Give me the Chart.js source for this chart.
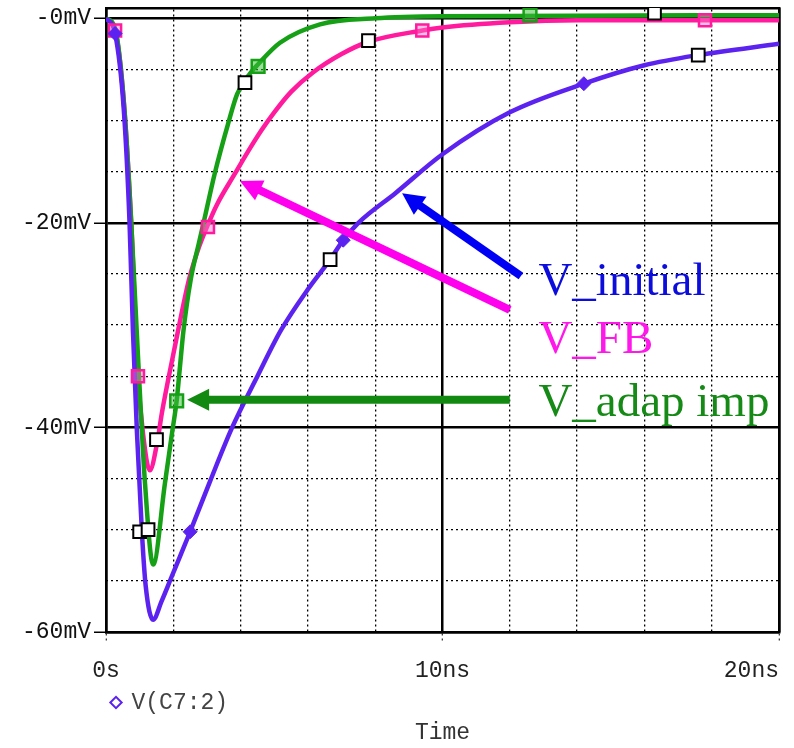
<!DOCTYPE html>
<html lang="en">
<head>
<meta charset="UTF-8">
<title>V(C7:2)</title>
<script src="https://cdn.jsdelivr.net/npm/chart.js"></script>
<style>
  html, body { margin: 0; padding: 0; background: #fff; overflow: hidden; }
  #wrap { position: relative; width: 860px; height: 748px; }
</style>
</head>
<body>
<div id="wrap"><canvas id="chart"></canvas></div>
<script>
// time in ns, voltage in mV
const tInitial = [0, 0.27, 0.53, 0.7, 0.8, 0.92, 1.07, 1.18, 1.4, 1.65, 1.95, 2.2, 2.5, 3.1, 3.75, 4.5, 5.2, 6.0, 6.66, 7.05, 7.5, 8.6, 10, 12, 14.2, 16, 17.6, 20];
const vInitial = [0, -1.5, -9, -20, -30.5, -40.5, -50.4, -55.5, -58.8, -57.0, -54.6, -52.6, -50.2, -45.2, -40, -35, -30.5, -26.5, -23.6, -21.7, -20, -17.1, -13.3, -9.2, -6.4, -4.6, -3.6, -2.5];

const tFB = [0, 0.27, 0.5, 0.75, 0.95, 1.1, 1.3, 1.52, 1.66, 1.85, 2.15, 2.47, 2.76, 3.0, 3.3, 3.83, 4.3, 4.63, 5.0, 5.5, 6.15, 7.0, 7.8, 9.4, 10, 12, 14, 20];
const vFB = [0, -1.2, -7, -20, -35, -40.6, -44.2, -41.5, -38.6, -35.3, -30.4, -25.5, -22.4, -20.4, -18.2, -15.2, -12.6, -10.9, -9.2, -7.2, -5.3, -3.5, -2.3, -1.2, -0.9, -0.4, -0.2, -0.2];

const tAdap = [0, 0.27, 0.55, 0.75, 0.95, 1.16, 1.4, 1.75, 1.96, 2.1, 2.2, 2.3, 2.52, 2.76, 2.9, 3.23, 3.63, 3.9, 4.28, 4.52, 5.17, 6.36, 8, 10, 20];
const vAdap = [0, -1, -9, -20, -33, -45.5, -53.4, -45.5, -40.6, -37.4, -34.0, -30.6, -25.5, -22, -20, -15.2, -10.3, -7.4, -5.4, -4.5, -2.4, -0.6, 0, 0.2, 0.3];

// trace symbols
const mInitialT = [0.27, 2.5, 7.05, 14.2];
const mInitialV = [-1.5, -50.2, -21.7, -6.4];
const mFBT = [0.27, 0.95, 3.03, 9.4, 17.8];
const mFBV = [-1.2, -35, -20.4, -1.2, -0.2];
const mAdapT = [2.1, 4.52, 12.6];
const mAdapV = [-37.4, -4.7, 0.3];
const mBoxT = [1.0, 1.25, 1.5, 4.13, 6.66, 7.8, 16.3, 17.6];
const mBoxV = [-50.2, -50.0, -41.2, -6.3, -23.6, -2.2, 0.5, -3.6];

const xTicks = [0, 10, 20];
const xTickLabels = ['0s', '10ns', '20ns'];
const yTicks = [-60, -40, -20, 0];
const yTickLabels = ['-60mV', '-40mV', '-20mV', '-0mV'];

// callouts
const noteText = ['V_initial', 'V_FB', 'V_adap imp'];
const noteColor = ['#0c0cdc', '#ff18ea', '#168a16'];
const noteAt = [[12.85, -27.1], [12.85, -32.7], [12.85, -38.9]];
const arrowFrom = [[12.33, -25.2], [12.0, -28.5], [12.0, -37.3]];
const arrowTo = [[8.8, -17.1], [3.98, -15.9], [2.41, -37.3]];
const arrowColor = ['#0000f5', '#ff00ee', '#128a12'];

const PURPLE = '#5b22f0';
const PINK = '#ff1a9e';
const GREEN = '#16a016';

function pts(t, v) {
  return t.map((x, i) => ({x: x, y: v[i]}));
}

const mono = "'Liberation Mono', monospace";

const callouts = {
  id: 'callouts',
  afterDraw(chart) {
    const ctx = chart.ctx;
    const sx = chart.scales.x, sy = chart.scales.y;
    ctx.save();
    for (let i = 0; i < arrowFrom.length; i++) {
      const x1 = sx.getPixelForValue(arrowFrom[i][0]), y1 = sy.getPixelForValue(arrowFrom[i][1]);
      const x2 = sx.getPixelForValue(arrowTo[i][0]), y2 = sy.getPixelForValue(arrowTo[i][1]);
      const a = Math.atan2(y2 - y1, x2 - x1);
      const head = 22;
      ctx.strokeStyle = arrowColor[i];
      ctx.fillStyle = arrowColor[i];
      ctx.lineWidth = 8;
      ctx.beginPath();
      ctx.moveTo(x1, y1);
      ctx.lineTo(x2 - Math.cos(a) * head * 0.8, y2 - Math.sin(a) * head * 0.8);
      ctx.stroke();
      ctx.beginPath();
      ctx.moveTo(x2, y2);
      ctx.lineTo(x2 - Math.cos(a) * head + Math.sin(a) * 11, y2 - Math.sin(a) * head - Math.cos(a) * 11);
      ctx.lineTo(x2 - Math.cos(a) * head - Math.sin(a) * 11, y2 - Math.sin(a) * head + Math.cos(a) * 11);
      ctx.closePath();
      ctx.fill();
    }
    ctx.font = "47px 'Liberation Serif', serif";
    ctx.textAlign = 'left';
    ctx.textBaseline = 'alphabetic';
    for (let i = 0; i < noteText.length; i++) {
      ctx.fillStyle = noteColor[i];
      ctx.fillText(noteText[i], sx.getPixelForValue(noteAt[i][0]), sy.getPixelForValue(noteAt[i][1]));
    }
    ctx.restore();
  }
};

new Chart(document.getElementById('chart'), {
  type: 'line',
  data: {
    datasets: [
      {label: 'boxes', data: pts(mBoxT, mBoxV), showLine: false, pointStyle: 'rect',
        pointRadius: 9, pointBorderWidth: 2, pointBorderColor: '#000', pointBackgroundColor: '#fff'},
      {label: 'initial marks', data: pts(mInitialT, mInitialV), showLine: false, pointStyle: 'rectRot',
        pointRadius: 7, pointBorderWidth: 1, pointBorderColor: PURPLE, pointBackgroundColor: PURPLE},
      {label: 'FB marks', data: pts(mFBT, mFBV), showLine: false, pointStyle: 'rect',
        pointRadius: 8.5, pointBorderWidth: 2.5, pointBorderColor: PINK, pointBackgroundColor: 'rgba(255,120,200,0.45)'},
      {label: 'adap marks', data: pts(mAdapT, mAdapV), showLine: false, pointStyle: 'rect',
        pointRadius: 9, pointBorderWidth: 2.5, pointBorderColor: GREEN, pointBackgroundColor: 'rgba(60,190,60,0.5)'},
      {label: 'V(C7:2)', data: pts(tInitial, vInitial), borderColor: PURPLE, borderWidth: 4.5,
        pointRadius: 0, cubicInterpolationMode: 'monotone'},
      {label: 'V_adap imp', data: pts(tAdap, vAdap), borderColor: GREEN, borderWidth: 4.5,
        pointRadius: 0, cubicInterpolationMode: 'monotone'},
      {label: 'V_FB', data: pts(tFB, vFB), borderColor: PINK, borderWidth: 4.5,
        pointRadius: 0, cubicInterpolationMode: 'monotone'}
    ]
  },
  options: {
    responsive: true,
    maintainAspectRatio: false,
    animation: false,
    layout: {autoPadding: false, padding: {left: 0, right: 81, top: 8, bottom: 0}},
    scales: {
      x: {
        type: 'linear', position: 'bottom', min: 0, max: 20,
        afterBuildTicks: s => { s.ticks = xTicks.map(v => ({value: v})); },
        afterFit: s => { s.height = 53; s.paddingLeft = 0; s.paddingRight = 0; },
        ticks: {
          maxRotation: 0, autoSkip: false, padding: 15, color: '#222',
          font: {family: mono, size: 23},
          callback: v => {
            const i = xTicks.indexOf(v);
            // last label sits left of the edge tick
            return i === xTicks.length - 1 ? xTickLabels[i] + '    ' : xTickLabels[i];
          }
        },
        grid: {color: '#000', lineWidth: 2.5, tickLength: 10, tickColor: '#000', tickWidth: 1, tickBorderDash: [2, 3]},
        border: {display: true, color: '#000', width: 2.5}
      },
      xMinor: {
        type: 'linear', position: 'top', min: 0, max: 20,
        ticks: {display: false, stepSize: 2},
        grid: {color: c => (c.tick && c.tick.value % 10 === 0) ? 'rgba(0,0,0,0)' : '#000', lineWidth: 1.3, drawTicks: false},
        border: {display: true, color: '#000', width: 2.5, dash: [2, 3]}
      },
      y: {
        type: 'linear', position: 'left', min: -60, max: 1,
        afterBuildTicks: s => { s.ticks = yTicks.map(v => ({value: v})); },
        afterFit: s => { s.width = 106; s.paddingTop = 0; s.paddingBottom = 0; },
        ticks: {
          padding: 3, color: '#111', font: {family: mono, size: 23},
          callback: v => yTickLabels[yTicks.indexOf(v)]
        },
        grid: {color: '#000', lineWidth: 2.5, tickLength: 12, tickColor: '#000', tickWidth: 1.5},
        border: {display: true, color: '#000', width: 2.5}
      },
      yMinor: {
        type: 'linear', position: 'right', min: -60, max: 1,
        ticks: {display: false, stepSize: 5, includeBounds: false},
        grid: {color: c => (c.tick && c.tick.value % 20 === 0) ? 'rgba(0,0,0,0)' : '#000', lineWidth: 1.3, drawTicks: false},
        border: {display: true, color: '#000', width: 2.5, dash: [2, 3]}
      }
    },
    plugins: {
      legend: {
        position: 'bottom', align: 'start', fullSize: false,
        labels: {
          usePointStyle: true, boxWidth: 8, boxHeight: 8, padding: 6,
          color: '#444', font: {family: mono, size: 23},
          generateLabels: () => [{
            text: 'V(C7:2)', fillStyle: '#fff', strokeStyle: PURPLE, lineWidth: 2,
            pointStyle: 'rectRot', datasetIndex: 4, fontColor: '#444'
          }]
        }
      },
      title: {
        display: true, text: 'Time', position: 'bottom', fullSize: false,
        color: '#333', font: {family: mono, size: 23, weight: 'normal', lineHeight: 0.8},
        padding: {top: 0, bottom: 5.6}
      },
      tooltip: {enabled: false}
    }
  },
  plugins: [callouts]
});
</script>
</body>
</html>
